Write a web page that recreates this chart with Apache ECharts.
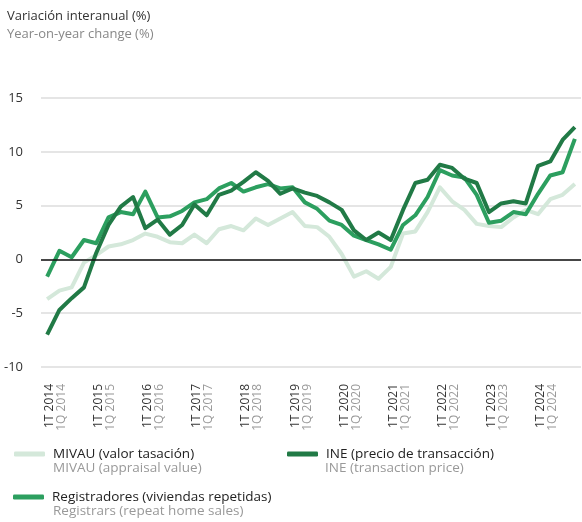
<!DOCTYPE html>
<html>
<head>
<meta charset="utf-8">
<title>Variación interanual</title>
<script src="https://cdn.jsdelivr.net/npm/echarts@6/dist/echarts.min.js"></script>
<style>
  html, body { margin: 0; padding: 0; background: #fff; }
  #chart { width: 582px; height: 522px; }
</style>
</head>
<body>
<div id="chart"></div>
<script>
// años del eje x, un punto por trimestre
const years = [2014, 2015, 2016, 2017, 2018, 2019, 2020, 2021, 2022, 2023, 2024]
const quarters = []
years.forEach(y => {
  for (let q = 1; q <= 4; q++) quarters.push(q + 'T ' + y)
})

// MIVAU (valor tasación)
const mivau = [-3.7, -2.9, -2.6, -0.3, 0.4, 1.2, 1.4, 1.8, 2.4, 2.1, 1.6, 1.5,
  2.3, 1.5, 2.8, 3.1, 2.7, 3.8, 3.2, 3.8, 4.4, 3.1, 3.0, 2.1,
  0.5, -1.6, -1.1, -1.8, -0.7, 2.4, 2.6, 4.4, 6.7, 5.4, 4.6, 3.3,
  3.1, 3.0, 3.9, 4.6, 4.2, 5.6, 6.0, 7.0]

// INE (precio de transacción)
const ine = [-7.0, -4.7, -3.6, -2.6, 0.6, 3.2, 4.9, 5.8, 2.9, 3.7, 2.3, 3.2,
  5.1, 4.1, 6.0, 6.4, 7.2, 8.1, 7.3, 6.1, 6.6, 6.2, 5.9, 5.3,
  4.6, 2.7, 1.8, 2.5, 1.8, 4.6, 7.1, 7.4, 8.8, 8.5, 7.5, 7.1,
  4.4, 5.2, 5.4, 5.2, 8.7, 9.1, 11.1, 12.3]

// Registradores (viviendas repetidas)
const registradores = [-1.6, 0.8, 0.2, 1.8, 1.5, 3.9, 4.4, 4.2, 6.3, 3.9, 4.0, 4.5,
  5.3, 5.6, 6.6, 7.1, 6.3, 6.7, 7.0, 6.6, 6.7, 5.3, 4.7, 3.6,
  3.2, 2.2, 1.8, 1.4, 0.9, 3.2, 4.1, 5.8, 8.3, 7.8, 7.6, 6.0,
  3.4, 3.6, 4.4, 4.2, 6.1, 7.8, 8.1, 11.2]

const FONT = 'Open Sans'
const C_LIGHT = '#d4e8da'
const C_DARK = '#217a46'
const C_MID = '#2c9f5f'

const chart = echarts.init(document.getElementById('chart'))

const legendBase = {
  orient: 'horizontal',
  padding: 0,
  itemWidth: 31,
  itemHeight: 5,
  icon: 'roundRect',
  selectedMode: false,
  textStyle: {
    fontFamily: FONT,
    fontSize: 13.5,
    color: '#222',
    padding: [0, 0, 0, 3]
  }
}

chart.setOption({
  backgroundColor: '#fff',
  animation: false,
  title: {
    text: 'Variación interanual (%)',
    subtext: 'Year-on-year change (%)',
    left: 2,
    top: 5,
    itemGap: 5,
    textStyle: { fontFamily: FONT, fontSize: 13, fontWeight: 'normal', color: '#333' },
    subtextStyle: { fontFamily: FONT, fontSize: 13, color: '#888' }
  },
  legend: [
    Object.assign({}, legendBase, { left: 14, top: 447, data: ['MIVAU (valor tasación)'] }),
    Object.assign({}, legendBase, { left: 287, top: 447, data: ['INE (precio de transacción)'] }),
    Object.assign({}, legendBase, { left: 13, top: 490, data: ['Registradores (viviendas repetidas)'] })
  ],
  graphic: [
    { type: 'text', left: 53, top: 461, style: { text: 'MIVAU (appraisal value)', fontFamily: FONT, fontSize: 13.5, fill: '#999' } },
    { type: 'text', left: 325, top: 461, style: { text: 'INE (transaction price)', fontFamily: FONT, fontSize: 13.5, fill: '#999' } },
    { type: 'text', left: 53, top: 504, style: { text: 'Registrars (repeat home sales)', fontFamily: FONT, fontSize: 13.5, fill: '#999' } }
  ],
  grid: {
    left: 41,
    right: 1,
    top: 98,
    bottom: 155
  },
  xAxis: {
    type: 'category',
    data: quarters,
    boundaryGap: true,
    axisLine: { show: false },
    axisTick: { show: false },
    splitLine: { show: false },
    axisLabel: {
      interval: 3,
      rotate: 90,
      margin: 17,
      padding: [17, 0, 0, 0],
      formatter(value) {
        const y = value.split(' ')[1]
        return '{a|1T ' + y + '}\n{b|1Q ' + y + '}'
      },
      rich: {
        a: { fontFamily: FONT, fontSize: 12, color: '#333', lineHeight: 12 },
        b: { fontFamily: FONT, fontSize: 12, color: '#999', lineHeight: 12 }
      }
    }
  },
  yAxis: {
    type: 'value',
    min: -10,
    max: 15,
    interval: 5,
    axisLine: { show: false },
    axisTick: { show: false },
    axisLabel: {
      margin: 18,
      fontFamily: FONT,
      fontSize: 13,
      color: '#333'
    },
    splitLine: { lineStyle: { color: '#dcdcdc', width: 1.5 } }
  },
  series: [
    {
      name: 'MIVAU (valor tasación)',
      type: 'line',
      data: mivau,
      symbol: 'none',
      color: C_LIGHT,
      lineStyle: { width: 4, color: C_LIGHT, join: 'round' },
      markLine: {
        silent: true,
        symbol: 'none',
        label: { show: false },
        lineStyle: { color: '#111', width: 1.5, type: 'solid' },
        data: [{ yAxis: 0 }]
      }
    },
    {
      name: 'Registradores (viviendas repetidas)',
      type: 'line',
      data: registradores,
      symbol: 'none',
      color: C_MID,
      lineStyle: { width: 4, color: C_MID, join: 'round' }
    },
    {
      name: 'INE (precio de transacción)',
      type: 'line',
      data: ine,
      symbol: 'none',
      color: C_DARK,
      lineStyle: { width: 4, color: C_DARK, join: 'round' }
    }
  ]
})
</script>
</body>
</html>
